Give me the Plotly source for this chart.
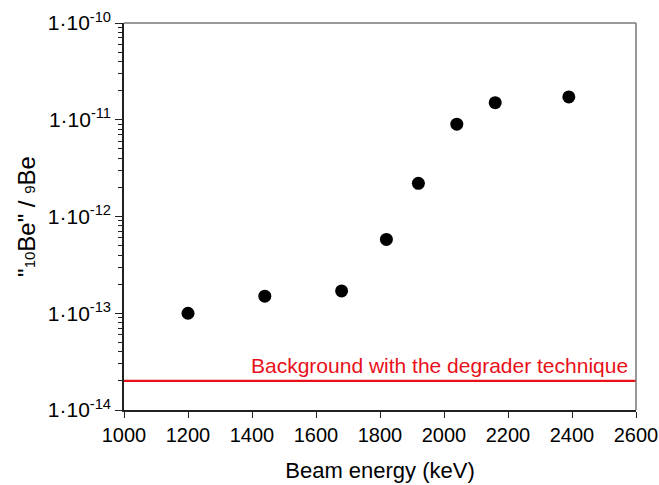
import plotly.graph_objects as go
import numpy as np

energy = [1200, 1440, 1680, 1820, 1920, 2040, 2160, 2390]
ratio = [1.0e-13, 1.5e-13, 1.7e-13, 5.8e-13, 2.2e-12, 9.0e-12, 1.5e-11, 1.72e-11]
background = 2.0e-14
bg_label = "Background with the degrader technique"
y_major = [1e-14, 1e-13, 1e-12, 1e-11, 1e-10]
y_labels = ["1·10<sup>-14</sup>", "1·10<sup>-13</sup>", "1·10<sup>-12</sup>",
            "1·10<sup>-11</sup>", "1·10<sup>-10</sup>"]
x_ticks = [1000, 1200, 1400, 1600, 1800, 2000, 2200, 2400, 2600]

minor_vals = [m * 10.0**e for e in range(-14, -10) for m in range(2, 10)]

fig = go.Figure()
fig.add_trace(go.Scatter(x=[1000, 2600], y=[background, background], mode="lines",
                         line=dict(color="#e8101a", width=2.2), hoverinfo="skip"))
fig.add_trace(go.Scatter(x=energy, y=ratio, mode="markers",
                         marker=dict(color="black", size=13)))

fig.add_annotation(x=2580, y=np.log10(background), xanchor="right", yanchor="bottom",
                   yshift=2, text=bg_label, showarrow=False,
                   font=dict(color="#e8101a", size=21, family="Liberation Sans"))

fig.update_layout(
    width=659, height=485, margin=dict(l=124, r=23, t=23, b=75),
    plot_bgcolor="white", paper_bgcolor="white", showlegend=False,
    font=dict(family="Liberation Sans", color="black"),
    shapes=[
        dict(type="line", xref="paper", yref="paper", x0=0, x1=1, y0=1, y1=1,
             line=dict(color="#777777", width=1.5)),
        dict(type="line", xref="paper", yref="paper", x0=1, x1=1, y0=0, y1=1,
             line=dict(color="#777777", width=1.5)),
    ],
)
fig.update_xaxes(range=[1000, 2600], tickvals=x_ticks, showgrid=False, zeroline=False,
                 showline=True, linecolor="#222222", linewidth=1.5, automargin=False,
                 ticks="outside", ticklen=6, tickcolor="#222222",
                 tickfont=dict(size=20),
                 title=dict(text="Beam energy (keV)", font=dict(size=22), standoff=18))
fig.update_yaxes(type="log", range=[-14, -10], tickvals=y_major, ticktext=y_labels,
                 showgrid=False, zeroline=False, showline=True, linecolor="#222222",
                 linewidth=1.5, ticks="outside", ticklen=7, tickcolor="#222222",
                 automargin=False, tickfont=dict(size=21),
                 minor=dict(tickvals=minor_vals, ticks="outside", ticklen=4,
                            tickcolor="#222222", showgrid=False),
                 title=dict(text="\"<span style='font-size:15px'>10</span>Be\" / <span style='font-size:15px'>9</span>Be",
                            font=dict(size=24), standoff=5))

fig.write_html("out.html")
